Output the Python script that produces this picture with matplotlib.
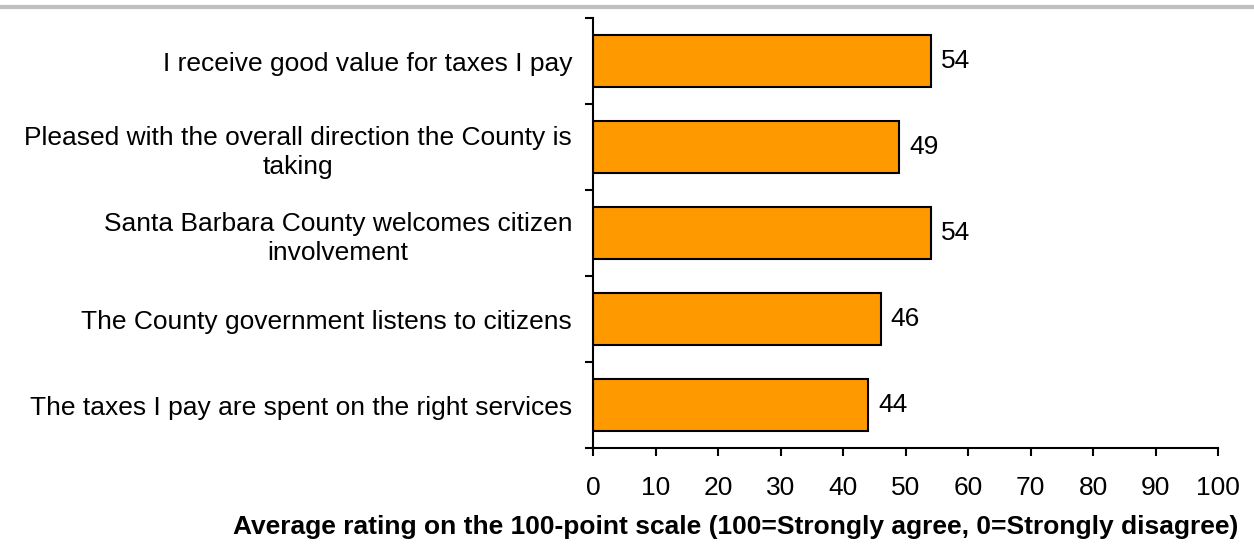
import matplotlib
matplotlib.use("Agg")
import matplotlib.pyplot as plt
from matplotlib.lines import Line2D

plt.rcParams['font.family'] = ['Liberation Sans', 'DejaVu Sans']

statements = [
    "I receive good value for taxes I pay",
    "Pleased with the overall direction the County is\ntaking",
    "Santa Barbara County welcomes citizen\ninvolvement",
    "The County government listens to citizens",
    "The taxes I pay are spent on the right services",
]
ratings = [54, 49, 54, 46, 44]
xticks = list(range(0, 101, 10))

fs = 19
fig = plt.figure(figsize=(12.54, 5.44), dpi=100)
ax = fig.add_axes([593 / 1254, 1 - 448 / 544, 625 / 1254, 430 / 544])

pos = list(range(len(statements)))
ax.barh(pos, ratings, height=0.6, color='#FF9900', edgecolor='black', linewidth=1.5)
for p, v in zip(pos, ratings):
    ax.text(v + 1.6, p, str(v), va='center', ha='left', fontsize=fs)

ax.set_xlim(0, 100)
ax.set_ylim(len(statements) - 0.5, -0.5)
ax.set_xticks(xticks)
ax.set_xticklabels([str(t) for t in xticks], fontsize=fs)
ax.set_yticks(pos)
ax.set_yticklabels(statements, fontsize=fs, multialignment='center', linespacing=1.3)
ax.set_yticks([i - 0.5 for i in range(len(statements) + 1)], minor=True)
ax.tick_params(axis='y', which='major', length=0, pad=15)
ax.tick_params(axis='y', which='minor', length=6, width=1.5, direction='out')
ax.tick_params(axis='x', length=6, width=1.5, direction='out', pad=14)

for side in ('top', 'right'):
    ax.spines[side].set_visible(False)
for side in ('left', 'bottom'):
    ax.spines[side].set_linewidth(1.5)

fig.text(736 / 1254, 1 - 527 / 544,
         "Average rating on the 100-point scale (100=Strongly agree, 0=Strongly disagree)",
         ha='center', va='center', fontsize=fs, fontweight='bold')

# separator rule along the top edge
fig.add_artist(Line2D([0, 1], [1 - 6.5 / 544, 1 - 6.5 / 544], color='#C0C0C0', linewidth=3))

fig.savefig("out.png", dpi=100)
